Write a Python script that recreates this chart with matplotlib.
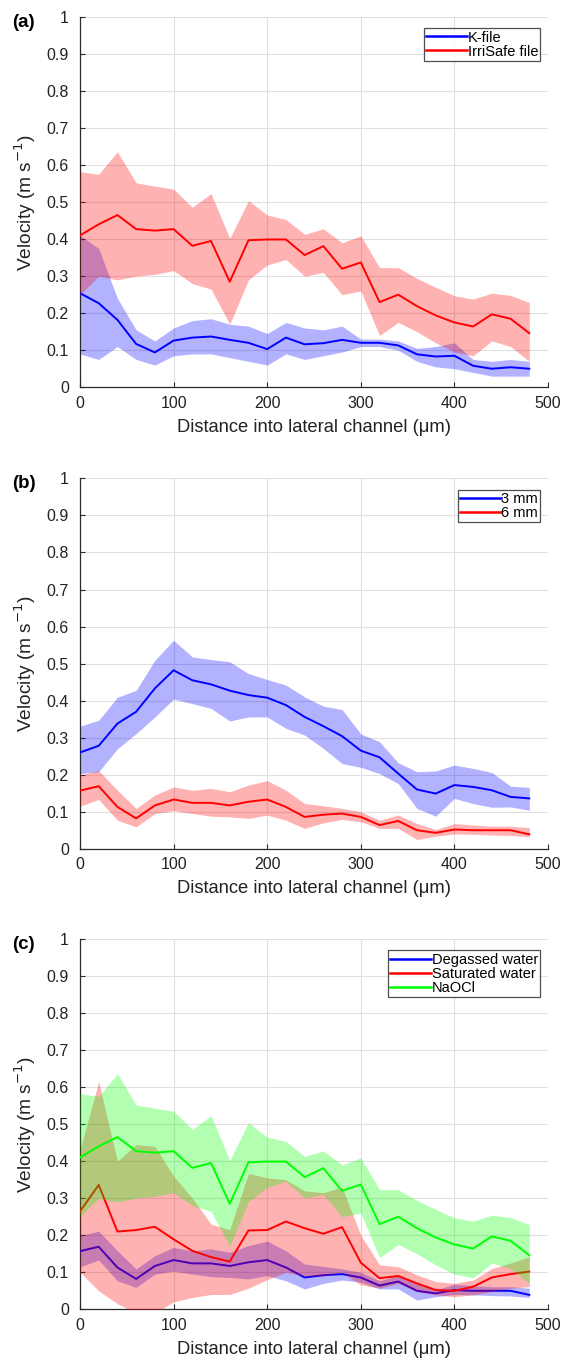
import matplotlib
matplotlib.use("Agg")
import matplotlib.pyplot as plt
from matplotlib.ticker import FormatStrFormatter

plt.rcParams['font.family'] = ['Liberation Sans', 'DejaVu Sans']

# distance into lateral channel (um)
dist = [0, 20, 40, 60, 80, 100, 120, 140, 160, 180, 200, 220, 240,
        260, 280, 300, 320, 340, 360, 380, 400, 420, 440, 460, 480]

# (a) K-file
kfile_mean = [0.254, 0.227, 0.182, 0.117, 0.094, 0.126, 0.134, 0.137, 0.128, 0.120, 0.103, 0.134, 0.116,
              0.119, 0.128, 0.120, 0.120, 0.113, 0.089, 0.083, 0.085, 0.058, 0.050, 0.054, 0.050]
kfile_hi = [0.410, 0.375, 0.240, 0.155, 0.125, 0.160, 0.180, 0.185, 0.170, 0.165, 0.145, 0.175, 0.160,
            0.155, 0.165, 0.130, 0.130, 0.125, 0.105, 0.110, 0.120, 0.075, 0.070, 0.075, 0.070]
kfile_lo = [0.090, 0.075, 0.110, 0.075, 0.060, 0.085, 0.090, 0.090, 0.080, 0.070, 0.060, 0.090, 0.075,
            0.085, 0.095, 0.110, 0.110, 0.100, 0.070, 0.055, 0.050, 0.040, 0.030, 0.030, 0.030]

# (a) IrriSafe file
irri_mean = [0.410, 0.440, 0.465, 0.427, 0.423, 0.427, 0.382, 0.395, 0.285, 0.397, 0.399, 0.399, 0.357,
             0.381, 0.320, 0.337, 0.230, 0.250, 0.219, 0.194, 0.175, 0.164, 0.197, 0.185, 0.146]
irri_hi = [0.582, 0.575, 0.636, 0.552, 0.543, 0.535, 0.486, 0.523, 0.402, 0.504, 0.465, 0.453, 0.413,
           0.428, 0.390, 0.409, 0.323, 0.323, 0.294, 0.270, 0.247, 0.238, 0.254, 0.248, 0.229]
irri_lo = [0.250, 0.300, 0.290, 0.300, 0.305, 0.315, 0.280, 0.265, 0.170, 0.290, 0.330, 0.345, 0.300,
           0.310, 0.250, 0.260, 0.140, 0.175, 0.150, 0.120, 0.095, 0.085, 0.125, 0.110, 0.070]

# (b) 3 mm
mm3_mean = [0.260, 0.278, 0.338, 0.370, 0.433, 0.482, 0.455, 0.444, 0.427, 0.415, 0.408, 0.388, 0.356,
            0.331, 0.304, 0.265, 0.247, 0.203, 0.160, 0.149, 0.172, 0.167, 0.158, 0.140, 0.136]
mm3_hi = [0.331, 0.347, 0.409, 0.428, 0.509, 0.563, 0.518, 0.511, 0.505, 0.473, 0.457, 0.442, 0.410,
          0.385, 0.376, 0.310, 0.289, 0.232, 0.208, 0.210, 0.226, 0.217, 0.206, 0.169, 0.166]
mm3_lo = [0.203, 0.208, 0.270, 0.311, 0.356, 0.404, 0.392, 0.379, 0.345, 0.356, 0.356, 0.325, 0.307,
          0.271, 0.230, 0.220, 0.203, 0.176, 0.109, 0.088, 0.136, 0.122, 0.112, 0.113, 0.104]

# (b) 6 mm
mm6_mean = [0.157, 0.169, 0.113, 0.082, 0.117, 0.133, 0.124, 0.124, 0.117, 0.127, 0.133, 0.113, 0.086,
            0.092, 0.095, 0.086, 0.064, 0.075, 0.050, 0.043, 0.052, 0.050, 0.050, 0.050, 0.039]
mm6_hi = [0.199, 0.211, 0.158, 0.109, 0.145, 0.167, 0.158, 0.163, 0.154, 0.172, 0.184, 0.158, 0.122,
          0.116, 0.109, 0.100, 0.077, 0.091, 0.068, 0.052, 0.068, 0.064, 0.061, 0.061, 0.057]
mm6_lo = [0.115, 0.133, 0.077, 0.059, 0.095, 0.103, 0.095, 0.088, 0.086, 0.082, 0.091, 0.077, 0.055,
          0.070, 0.079, 0.073, 0.055, 0.055, 0.025, 0.034, 0.040, 0.039, 0.037, 0.036, 0.032]

# (c) degassed water and NaOCl read the same as 6 mm and IrriSafe
degas_mean, degas_hi, degas_lo = mm6_mean, mm6_hi, mm6_lo
naocl_mean, naocl_hi, naocl_lo = irri_mean, irri_hi, irri_lo

# (c) saturated water
sat_mean = [0.264, 0.336, 0.210, 0.214, 0.223, 0.189, 0.158, 0.141, 0.129, 0.213, 0.214, 0.237, 0.219,
            0.204, 0.222, 0.126, 0.084, 0.090, 0.070, 0.052, 0.050, 0.061, 0.086, 0.095, 0.102]
sat_hi = [0.430, 0.615, 0.400, 0.445, 0.440, 0.360, 0.300, 0.230, 0.215, 0.367, 0.355, 0.350, 0.320,
          0.315, 0.330, 0.200, 0.120, 0.115, 0.093, 0.075, 0.070, 0.079, 0.110, 0.125, 0.142]
sat_lo = [0.100, 0.050, 0.015, -0.010, -0.010, 0.020, 0.032, 0.040, 0.040, 0.057, 0.080, 0.100, 0.090,
          0.090, 0.100, 0.066, 0.057, 0.070, 0.048, 0.039, 0.034, 0.039, 0.048, 0.057, 0.061]

panels = [
    ("(a)", [("K-file", "#0000ff", kfile_mean, kfile_lo, kfile_hi),
             ("IrriSafe file", "#ff0000", irri_mean, irri_lo, irri_hi)]),
    ("(b)", [("3 mm", "#0000ff", mm3_mean, mm3_lo, mm3_hi),
             ("6 mm", "#ff0000", mm6_mean, mm6_lo, mm6_hi)]),
    ("(c)", [("Degassed water", "#0000ff", degas_mean, degas_lo, degas_hi),
             ("Saturated water", "#ff0000", sat_mean, sat_lo, sat_hi),
             ("NaOCl", "#00ff00", naocl_mean, naocl_lo, naocl_hi)]),
]

fig = plt.figure(figsize=(5.68, 13.65), dpi=100)
bottoms = [0.7163, 0.3782, 0.0408]

for (tag, series), b in zip(panels, bottoms):
    ax = fig.add_axes([0.1408, b, 0.824, 0.2713])
    z = 2
    for name, col, m, lo, hi in series:
        ax.fill_between(dist, lo, hi, color=col, alpha=0.3, linewidth=0, zorder=z)
        ax.plot(dist, m, color=col, lw=1.4, label=name, zorder=z + 1)
        z += 2
    ax.set_xlim(0, 500)
    ax.set_ylim(0, 1)
    ax.set_xticks([0, 100, 200, 300, 400, 500])
    ax.set_yticks([i / 10 for i in range(11)])
    ax.yaxis.set_major_formatter(FormatStrFormatter('%g'))
    ax.grid(True, color="#e0e0e0", lw=0.8)
    ax.set_axisbelow(True)
    for s in ["top", "right"]:
        ax.spines[s].set_visible(False)
    for s in ["left", "bottom"]:
        ax.spines[s].set_color("#2a2a2a")
        ax.spines[s].set_linewidth(0.9)
    ax.tick_params(direction="in", length=3.5, width=0.8, color="#2a2a2a",
                   labelsize=11.5, labelcolor="#222222")
    ax.tick_params(axis="x", pad=6)
    ax.tick_params(axis="y", pad=8)
    ax.set_xlabel("Distance into lateral channel (\u03bcm)", fontsize=13.2,
                  labelpad=6, color="#222222")
    ax.set_ylabel("Velocity (m s$^{-1}$)", fontsize=13.8, labelpad=6, color="#222222")
    ax.text(-0.145, 0.986, tag, transform=ax.transAxes, fontsize=13.5,
            fontweight="bold", va="center", ha="left")
    leg = ax.legend(loc="upper right", bbox_to_anchor=(0.99, 0.977), fontsize=10.5,
                    frameon=True, fancybox=False, handlelength=2.8, handletextpad=0.05,
                    borderpad=0.15, labelspacing=0.0, borderaxespad=0.2)
    leg.get_frame().set_edgecolor("#222222")
    leg.get_frame().set_linewidth(0.9)
    for ln in leg.get_lines():
        ln.set_linewidth(1.8)
    leg.set_zorder(20)

fig.savefig("out.png", dpi=100)
